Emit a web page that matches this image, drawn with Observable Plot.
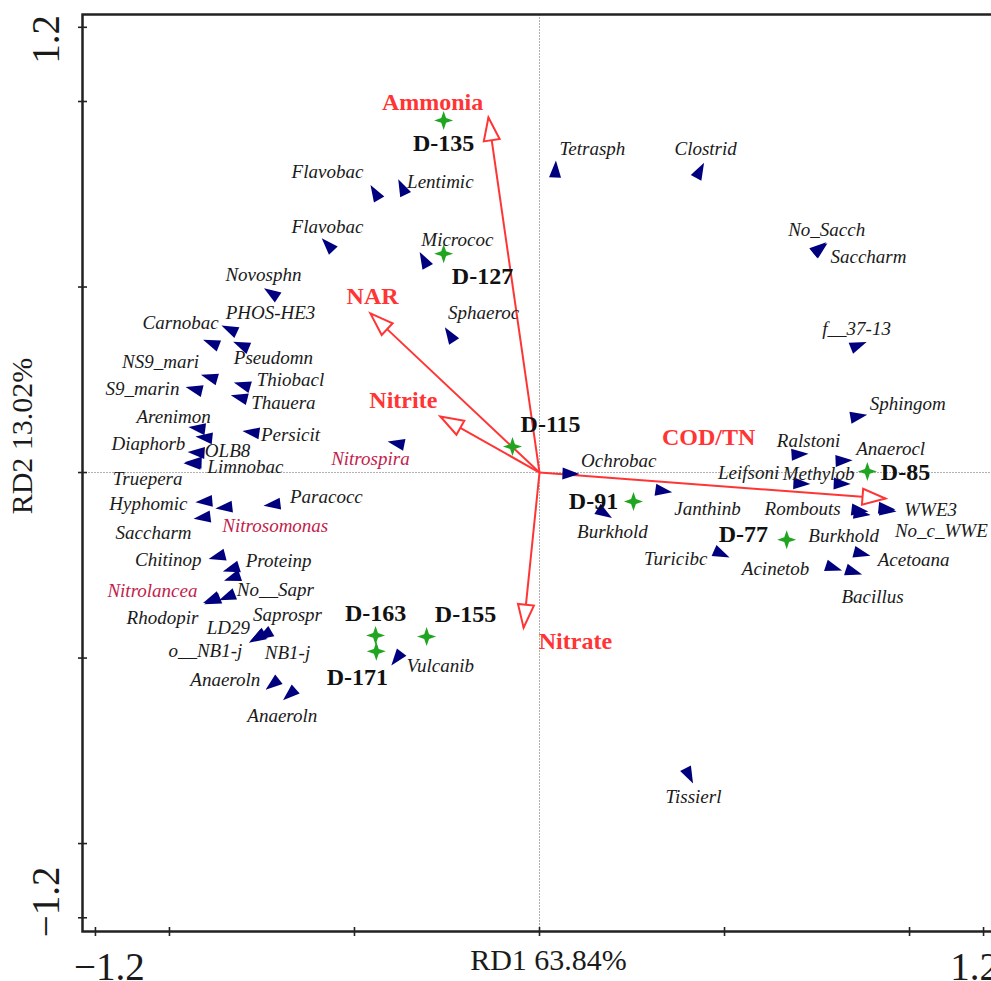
<!DOCTYPE html>
<html>
<head>
<meta charset="utf-8">
<script src="https://cdn.jsdelivr.net/npm/d3@7"></script>
<script src="https://cdn.jsdelivr.net/npm/@observablehq/plot@0.6"></script>
<style>
  html, body { margin: 0; padding: 0; background: #fff; overflow: hidden; }
</style>
</head>
<body>
<div id="chart"></div>
<script>
// ---- RDA triplot: genera (species), environmental factors, reactor samples ----

// Genus scores on RD1 / RD2
const speciesNames = [
  "Tetrasph", "Clostrid", "Flavobac", "Lentimic", "Flavobac", "Micrococ", "No_Sacch", "Saccharm",
  "Novosphn", "PHOS-HE3", "Carnobac", "Pseudomn", "Sphaeroc", "f__37-13", "NS9_mari", "S9_marin",
  "Thiobacl", "Thauera", "Arenimon", "Diaphorb", "Persicit", "OLB8", "Limnobac", "Truepera",
  "Nitrospira", "Hyphomic", "Nitrosomonas", "Paracocc", "Saccharm", "Chitinop", "Proteinp", "No__Sapr",
  "Nitrolancea", "Rhodopir", "Saprospr", "LD29", "o__NB1-j", "NB1-j", "Anaeroln", "Anaeroln",
  "Vulcanib", "Tissierl", "Ochrobac", "Burkhold", "Janthinb", "Turicibc", "Sphingom", "Ralstoni",
  "Anaerocl", "Leifsoni", "Methylob", "Rombouts", "Burkhold", "WWE3", "No_c_WWE", "Acetoana",
  "Acinetob", "Bacillus"
];
const speciesRD1 = [
  0.043, 0.432, -0.443, -0.370, -0.570, -0.311, 0.754, 0.757,
  -0.722, -0.835, -0.884, -0.803, -0.241, 0.859, -0.889, -0.930,
  -0.800, -0.808, -0.922, -0.903, -0.776, -0.924, -0.935, -0.932,
  -0.384, -0.903, -0.849, -0.719, -0.908, -0.868, -0.830, -0.827,
  -0.884, -0.881, -0.841, -0.759, -0.762, -0.741, -0.719, -0.673,
  -0.384, 0.403, 0.081, 0.173, 0.332, 0.489, 0.859, 0.700,
  0.819, 0.705, 0.814, 0.862, 0.868, 0.935, 0.938, 0.868,
  0.792, 0.846
];
const speciesRD2 = [
  0.814, 0.811, 0.752, 0.766, 0.612, 0.571, 0.604, 0.601,
  0.482, 0.385, 0.348, 0.342, 0.369, 0.342, 0.256, 0.224,
  0.235, 0.202, 0.119, 0.094, 0.108, 0.054, 0.024, 0.027,
  0.078, -0.078, -0.094, -0.086, -0.121, -0.226, -0.259, -0.283,
  -0.342, -0.345, -0.334, -0.442, -0.445, -0.437, -0.569, -0.596,
  -0.499, -0.814, -0.003, -0.108, -0.049, -0.218, 0.151, 0.049,
  0.032, -0.030, -0.030, -0.102, -0.111, -0.097, -0.102, -0.218,
  -0.256, -0.267
];
// Nitrifying genera, named in full
const nitrifiers = ["Nitrospira", "Nitrosomonas", "Nitrolancea"];

// Environmental factors (biplot arrow tips)
const envNames = ["Ammonia", "NAR", "Nitrite", "COD/TN", "Nitrate"];
const envRD1 = [-0.138, -0.457, -0.268, 0.935, -0.043];
const envRD2 = [0.957, 0.429, 0.151, -0.070, -0.418];

// Sampling days
const sampleNames = ["D-135", "D-127", "D-115", "D-91", "D-85", "D-77", "D-163", "D-171", "D-155"];
const sampleRD1 = [-0.259, -0.259, -0.073, 0.254, 0.886, 0.668, -0.443, -0.441, -0.305];
const sampleRD2 = [0.949, 0.590, 0.070, -0.078, 0.003, -0.181, -0.439, -0.482, -0.442];

// Axis ticks and the two labelled ends
const axisTicks = [-1.2, -1, -0.5, 0, 0.5, 1, 1.2];
const axisTickLabels = ["−1.2", "1.2"];
const rd1Title = "RD1 63.84%";
const rd2Title = "RD2 13.02%";

// ---- label placement (ordination units), kept apart from the scores ----
const speciesLabelAt = [
  [0.143, 0.871], [0.449, 0.871], [-0.573, 0.809], [-0.268, 0.782], [-0.573, 0.663], [-0.222, 0.628], [0.776, 0.655], [0.889, 0.582],
  [-0.746, 0.534], [-0.727, 0.431], [-0.970, 0.404], [-0.719, 0.310], [-0.151, 0.429], [0.857, 0.388], [-1.024, 0.299], [-1.073, 0.226],
  [-0.673, 0.251], [-0.692, 0.189], [-0.989, 0.151], [-1.057, 0.078], [-0.673, 0.102], [-0.843, 0.057], [-0.795, 0.016], [-1.059, -0.016],
  [-0.457, 0.038], [-1.057, -0.084], [-0.714, -0.143], [-0.576, -0.067], [-1.043, -0.162], [-1.003, -0.235], [-0.705, -0.237], [-0.714, -0.315],
  [-1.046, -0.318], [-1.019, -0.391], [-0.681, -0.385], [-0.841, -0.418], [-0.903, -0.480], [-0.681, -0.485], [-0.849, -0.558], [-0.695, -0.655],
  [-0.268, -0.520], [0.416, -0.873], [0.214, 0.032], [0.197, -0.159], [0.454, -0.097], [0.368, -0.232], [0.995, 0.186], [0.727, 0.084],
  [0.949, 0.065], [0.565, 0.000], [0.754, -0.003], [0.711, -0.097], [0.822, -0.170], [1.057, -0.100], [1.086, -0.156], [1.011, -0.235],
  [0.638, -0.261], [0.900, -0.334]
];
const envLabelAt = [[-0.289, 0.997], [-0.451, 0.474], [-0.368, 0.194], [0.457, 0.094], [0.097, -0.456]];
const sampleLabelAt = [[-0.259, 0.887], [-0.154, 0.528], [0.030, 0.129], [0.146, -0.078], [0.989, 0.000],
  [0.551, -0.167], [-0.443, -0.380], [-0.492, -0.553], [-0.200, -0.383]];

// ---- tables for the marks ----
const species = speciesNames.map((name, i) => ({
  name, rd1: speciesRD1[i], rd2: speciesRD2[i], lx: speciesLabelAt[i][0], ly: speciesLabelAt[i][1]
}));
const env = envNames.map((name, i) => ({
  name, rd1: envRD1[i], rd2: envRD2[i], lx: envLabelAt[i][0], ly: envLabelAt[i][1]
}));
const samples = sampleNames.map((name, i) => ({
  name, rd1: sampleRD1[i], rd2: sampleRD2[i], lx: sampleLabelAt[i][0], ly: sampleLabelAt[i][1]
}));

// clockwise rotation that turns an upward glyph to point away from the origin
const heading = d => 90 - Math.atan2(d.rd2, d.rd1) * 180 / Math.PI;

// ---- custom symbols ----
const speciesHead = { draw(ctx) { ctx.moveTo(0, -10); ctx.lineTo(6, 7); ctx.lineTo(-6, 7); ctx.closePath(); } };
const envHead = { draw(ctx) { ctx.moveTo(0, 0); ctx.lineTo(8, 23); ctx.lineTo(-8, 23); ctx.closePath(); } };
const sampleStar = {
  draw(ctx) {
    const R = 9.5, r = 3.4;
    for (let k = 0; k < 8; k++) {
      const a = k * Math.PI / 4 - Math.PI / 2, d = k % 2 ? r : R;
      const px = d * Math.cos(a), py = d * Math.sin(a);
      if (k === 0) ctx.moveTo(px, py); else ctx.lineTo(px, py);
    }
    ctx.closePath();
  }
};
const tickV = { draw(ctx) { ctx.moveTo(0, -4.5); ctx.lineTo(0, 4.5); } };
const tickH = { draw(ctx) { ctx.moveTo(-4.5, 0); ctx.lineTo(4.5, 0); } };

const RED = "#ff3535";
const NAVY = "#00007f";
const GREEN = "#1fa51f";
const CRIMSON = "#c21d4c";
const INK = "#1a1a1a";

const chart = Plot.plot({
  width: 1000,
  height: 981,
  marginTop: 14,
  marginRight: 4,
  marginBottom: 50,
  marginLeft: 82,
  x: { domain: [-1.235, 1.235], axis: null },
  y: { domain: [-1.237, 1.2345], axis: null },
  style: {
    fontFamily: "'Liberation Serif', 'Times New Roman', serif",
    background: "#fff",
    maxWidth: "none",
    overflow: "visible"
  },
  marks: [
    // origin cross-hairs
    Plot.ruleX([0], { stroke: "#b0b0b0", strokeWidth: 1, strokeDasharray: "2,1" }),
    Plot.ruleY([0], { stroke: "#b0b0b0", strokeWidth: 1, strokeDasharray: "2,1" }),
    Plot.frame({ stroke: "#222", strokeWidth: 2.5 }),

    // ticks straddling the frame
    Plot.dot(axisTicks, { x: d => d, frameAnchor: "bottom", symbol: tickV, stroke: "#222", strokeWidth: 1.6, fill: "none" }),
    Plot.dot(axisTicks, { y: d => d, frameAnchor: "left", symbol: tickH, stroke: "#222", strokeWidth: 1.6, fill: "none" }),

    // end tick labels
    Plot.text([-1.2], { x: d => d, text: () => axisTickLabels[0], frameAnchor: "bottom", textAnchor: "middle", lineAnchor: "middle", dy: 36, dx: 14, fontSize: 39, fill: INK }),
    Plot.text([1.2], { x: d => d, text: () => axisTickLabels[1], frameAnchor: "bottom", textAnchor: "middle", lineAnchor: "middle", dy: 36, dx: -9, fontSize: 39, fill: INK }),
    Plot.text([1.2], { y: d => d, text: () => axisTickLabels[1], frameAnchor: "left", textAnchor: "middle", lineAnchor: "middle", rotate: -90, dx: -36, dy: 12, fontSize: 39, fill: INK }),
    Plot.text([-1.2], { y: d => d, text: () => axisTickLabels[0], frameAnchor: "left", textAnchor: "middle", lineAnchor: "middle", rotate: -90, dx: -36, dy: -16, fontSize: 39, fill: INK }),

    // axis titles
    Plot.text([rd1Title], { frameAnchor: "bottom", textAnchor: "middle", lineAnchor: "middle", dx: 9, dy: 29, fontSize: 30, fill: INK }),
    Plot.text([rd2Title], { frameAnchor: "left", textAnchor: "middle", lineAnchor: "middle", rotate: -90, dx: -60, dy: -37, fontSize: 30, fill: INK }),

    // environmental arrows
    Plot.link(env, { x1: () => 0, y1: () => 0, x2: "rd1", y2: "rd2", stroke: RED, strokeWidth: 2 }),
    Plot.dot(env, { x: "rd1", y: "rd2", symbol: envHead, rotate: heading, fill: "#fff", stroke: RED, strokeWidth: 2 }),

    // genera
    Plot.dot(species, { x: "rd1", y: "rd2", symbol: speciesHead, rotate: heading, fill: NAVY, stroke: "none" }),

    // samples
    Plot.dot(samples, { x: "rd1", y: "rd2", symbol: sampleStar, fill: GREEN, stroke: "none" }),

    // labels
    Plot.text(species, {
      filter: d => !nitrifiers.includes(d.name),
      x: "lx", y: "ly", text: "name", fontStyle: "italic", fontSize: 19, fill: INK
    }),
    Plot.text(species, {
      filter: d => nitrifiers.includes(d.name),
      x: "lx", y: "ly", text: "name", fontStyle: "italic", fontSize: 19, fill: CRIMSON
    }),
    Plot.text(env, { x: "lx", y: "ly", text: "name", fontWeight: "bold", fontSize: 24, fill: RED }),
    Plot.text(samples, { x: "lx", y: "ly", text: "name", fontWeight: "bold", fontSize: 24, fill: "#111" })
  ]
});

document.getElementById("chart").appendChild(chart);
</script>
</body>
</html>
